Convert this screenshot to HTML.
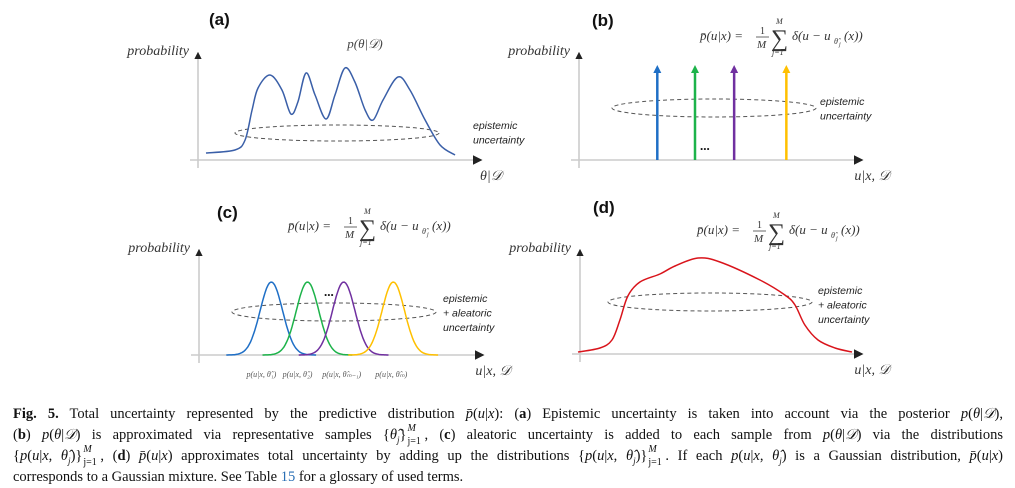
<!DOCTYPE html>
<html><head><meta charset="utf-8"><style>
body{margin:0;background:#fff;width:1015px;height:484px;overflow:hidden;position:relative}
svg{position:absolute;left:0;top:0}
#cap{position:absolute;left:13px;top:404px;width:990px;font-family:"Liberation Serif",serif;font-size:14.5px;color:#111}
#cap div{height:21px;line-height:21px;text-align:justify;text-align-last:justify;white-space:nowrap;overflow:visible}
#cap div.last{text-align-last:left}
#cap i{font-style:italic}
.ss{display:inline-block;position:relative;width:18px;height:10px;font-size:10px;line-height:10px;vertical-align:baseline}
.ss .u{position:absolute;left:1px;top:-5px;font-style:italic}
.ss .d{position:absolute;left:1px;top:8px}
sub{font-size:9px;line-height:0}
</style></head><body>
<svg id="fig" width="1015" height="400" font-family="Liberation Serif, serif"></svg>
<div id="cap">
<div><b>Fig. 5.</b> Total uncertainty represented by the predictive distribution <i>p̄</i>(<i>u</i>|<i>x</i>): (<b>a</b>) Epistemic uncertainty is taken into account via the posterior <i>p</i>(<i>θ</i>|<i>𝒟</i>),</div>
<div>(<b>b</b>) <i>p</i>(<i>θ</i>|<i>𝒟</i>) is approximated via representative samples {<i>θ̂<sub>j</sub></i>}<span class="ss"><span class="u">M</span><span class="d">j=1</span></span>, (<b>c</b>) aleatoric uncertainty is added to each sample from <i>p</i>(<i>θ</i>|<i>𝒟</i>) via the distributions</div>
<div>{<i>p</i>(<i>u</i>|<i>x</i>, <i>θ̂<sub>j</sub></i>)}<span class="ss"><span class="u">M</span><span class="d">j=1</span></span>, (<b>d</b>) <i>p̄</i>(<i>u</i>|<i>x</i>) approximates total uncertainty by adding up the distributions {<i>p</i>(<i>u</i>|<i>x</i>, <i>θ̂<sub>j</sub></i>)}<span class="ss"><span class="u">M</span><span class="d">j=1</span></span>. If each <i>p</i>(<i>u</i>|<i>x</i>, <i>θ̂<sub>j</sub></i>) is a Gaussian distribution, <i>p̄</i>(<i>u</i>|<i>x</i>)</div>
<div class="last">corresponds to a Gaussian mixture. See Table <span style="color:#2a6fb5">15</span> for a glossary of used terms.</div>
</div>
<script>
// Panel (a) posterior curve
const aU=[0,11.6,15.7,18.5,20.9,25.7,30.5,34.1,36.9,40.2,43.8,48.2,51.8,55.8,59.8,63.9,67.1,71.1,77.1,81.9,88,94,100];
const aP=[.07,.10,.20,.50,.72,.85,.70,.46,.58,.87,.65,.41,.65,.92,.78,.50,.40,.60,.83,.70,.40,.15,.05];
// Panel (b) delta arrow positions
const bU=[27,40,53.5,71.5];
const bH=[1,1,1,1];
// Panel (c) gaussian means
const cMean=[27,40.5,54,72.5];
const cSigma=[4.2,4.2,4.2,4.2];
const cLabels=["p(u|x, θ̂₁)","p(u|x, θ̂₂)","p(u|x, θ̂ₘ₋₁)","p(u|x, θ̂ₘ)"];
// Panel (d) mixture curve
const dU=[0,8,12.4,15.3,18.2,22.6,29.9,35.4,43.8,51.8,66.4,75.5,79.2,82.8,87.6,93.8,100];
const dP=[.02,.06,.14,.34,.58,.72,.80,.88,.96,.92,.74,.59,.49,.29,.14,.06,.02];
const colors=["#1f6fc6","#1db34a","#7030a0","#ffc000"];

const svg=document.getElementById('fig');
const NS="http://www.w3.org/2000/svg";
function mk(tag,attrs,parent){const e=document.createElementNS(NS,tag);for(const k in attrs)e.setAttribute(k,attrs[k]);(parent||svg).appendChild(e);return e;}
function txt(x,y,s,size,extra,parent){const t=mk('text',Object.assign({x:x,y:y,'font-size':size,fill:'#333'},extra||{}),parent);t.textContent=s;return t;}
function smooth(pts){let d="M"+pts[0][0]+","+pts[0][1];for(let i=0;i<pts.length-1;i++){const p0=pts[i-1]||pts[i],p1=pts[i],p2=pts[i+1],p3=pts[i+2]||p2;d+=" C"+(p1[0]+(p2[0]-p0[0])/6)+","+(p1[1]+(p2[1]-p0[1])/6)+" "+(p2[0]-(p3[0]-p1[0])/6)+","+(p2[1]-(p3[1]-p1[1])/6)+" "+p2[0]+","+p2[1];}return d;}
mk('defs',{}).innerHTML='<marker id="ah" markerWidth="6" markerHeight="6" refX="5" refY="3" orient="auto"><path d="M0,0 L6,3 L0,6z" fill="#222"/></marker>';

function panel(o){
  const g=mk('g',{});
  
  
  const l=txt(o.lx,o.ly,'('+o.id+')',17,{'font-family':'Liberation Sans, sans-serif','font-weight':'bold',fill:'#111'},g);
  
  const ya=mk('line',{x1:o.ax,y1:o.ay+8,x2:o.ax,y2:o.ytop,stroke:'#bbb','stroke-width':1.2,'marker-end':'url(#ah)'},g);
  
  const xa=mk('line',{x1:o.ax-8,y1:o.ay,x2:o.xend,y2:o.ay,stroke:'#ccc','stroke-width':1.6,'marker-end':'url(#ah)'},g);
  
  const yt=txt(o.ax-9,o.ytop+2,'probability',14,{'font-style':'italic','text-anchor':'end'},g);
  
  const xt=txt(o.xend+10,o.ay+20,o.xlab,14,{'font-style':'italic','text-anchor':'middle'},g);
  
  const el=mk('ellipse',{cx:o.ex,cy:o.ey,rx:102,ry:o.ery||8,fill:'none',stroke:'#555','stroke-width':1,'stroke-dasharray':'4,3'},g);
  
  o.note.forEach((s,i)=>{const t=txt(o.nx,o.ny+i*14.5,s,10.5,{'font-family':'Liberation Sans, sans-serif','font-style':'italic',fill:'#222'},g);
    });
  return g;
}
function formula(x,y,g){
  const f=mk('g',{transform:'translate('+x+','+y+')',fill:'#444'},g);
  
  txt(0,0,'p̄(u|x) =',13,{'font-style':'italic'},f);
  txt(60,-6,'1',10,{},f);mk('line',{x1:56,y1:-3,x2:69,y2:-3,stroke:'#444','stroke-width':0.8},f);txt(57,8,'M',11,{'font-style':'italic'},f);
  txt(71,6,'∑',24,{},f);txt(76,-16,'M',8,{'font-style':'italic'},f);txt(72,15,'j=1',8,{'font-style':'italic'},f);
  txt(92,0,'δ(u − u',13,{'font-style':'italic'},f);txt(134,4,'θ̂',8,{'font-style':'italic'},f);txt(139,6,'j',6,{'font-style':'italic'},f);txt(144,0,'(x))',13,{'font-style':'italic'},f);
}

// (a)
const ga=panel({id:'a',lx:209,ly:25,ax:198,ay:160,ytop:53,xend:481,xlab:'θ|𝒟',ex:337,ey:133,note:['epistemic','uncertainty'],nx:473,ny:129});
const ax=u=>206+u*2.49, ay=p=>160-p*100;
const pa=mk('path',{d:smooth(aU.map((u,i)=>[ax(u),ay(aP[i])])),fill:'none',stroke:'#3a5fa8','stroke-width':1.5},ga);

const fa=txt(365,48,'p(θ|𝒟)',13,{'font-style':'italic','text-anchor':'middle',fill:'#444'},ga);


// (b)
const gb=panel({id:'b',lx:592,ly:26,ax:579,ay:160,ytop:53,xend:862,xlab:'u|x, 𝒟',ex:714,ey:108,ery:9,note:['epistemic','uncertainty'],nx:820,ny:105});
const bx=u=>579+u*2.9, by=h=>160-h*95;
bU.forEach((u,i)=>{
  const a=mk('line',{x1:bx(u),y1:160,x2:bx(u),y2:by(bH[i])+6,stroke:colors[i],'stroke-width':2.5},gb);
  
  mk('path',{d:'M'+(bx(u)-4)+','+(by(bH[i])+8)+' L'+bx(u)+','+by(bH[i])+' L'+(bx(u)+4)+','+(by(bH[i])+8)+'z',fill:colors[i]},gb);
});
txt(700,150,'...',13,{fill:'#111','font-weight':'bold'},gb);
formula(700,40,gb);

// (c)
const gc=panel({id:'c',lx:217,ly:218,ax:199,ay:355,ytop:250,xend:483,xlab:'u|x, 𝒟',ex:334,ey:312,ery:9,note:['epistemic','+ aleatoric','uncertainty'],nx:443,ny:302});
const cx=u=>199+u*2.68, cy=p=>355-p*73;
cMean.forEach((m,i)=>{
  const pts=[];for(let u=m-4*cSigma[i];u<=m+4*cSigma[i]+0.01;u+=0.5){pts.push(cx(u).toFixed(1)+','+cy(Math.exp(-0.5*((u-m)/cSigma[i])**2)).toFixed(1));}
  const p=mk('polyline',{points:pts.join(' '),fill:'none',stroke:colors[i],'stroke-width':1.5},gc);
  
  const t=txt(cx(m)-10+ (i>1?8:0),377,cLabels[i],8,{'font-style':'italic','text-anchor':'middle',fill:'#555'},gc);
  
});
txt(324,296,'...',13,{fill:'#111','font-weight':'bold'},gc);
formula(288,230,gc);

// (d)
const gd=panel({id:'d',lx:593,ly:213,ax:580,ay:354,ytop:250,xend:862,xlab:'u|x, 𝒟',ex:710,ey:302,ery:9,note:['epistemic','+ aleatoric','uncertainty'],nx:818,ny:294});
const dx=u=>578+u*2.74, dy=p=>354-p*100;
const pd=mk('path',{d:smooth(dU.map((u,i)=>[dx(u),dy(dP[i])])),fill:'none',stroke:'#d9141b','stroke-width':1.5},gd);

formula(697,234,gd);
</script>
</body></html>
